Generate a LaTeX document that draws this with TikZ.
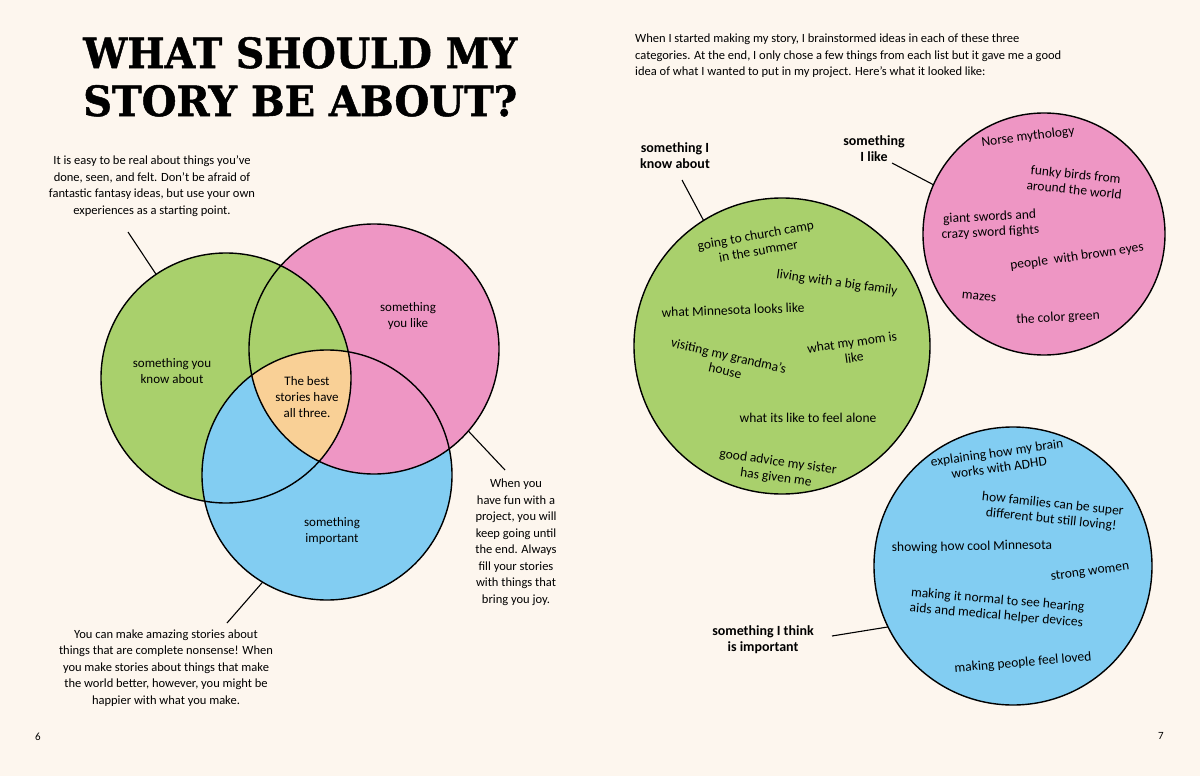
\documentclass[tikz,border=0pt]{standalone}
\usepackage{fontspec}
\setmainfont{Carlito}
\newfontfamily\titlefont[BoldFeatures={FakeBold=1.2}]{DejaVu Serif}
\usepackage{graphicx}
\usetikzlibrary{positioning}

\definecolor{paper}{RGB}{253,246,238}
\definecolor{vgreen}{RGB}{169,208,108}
\definecolor{vpink}{RGB}{238,150,196}
\definecolor{vblue}{RGB}{130,205,242}
\definecolor{vorange}{RGB}{249,208,150}

\begin{document}
\begin{tikzpicture}[
  x=1pt, y=-1pt,
  venn/.style={circle, minimum size=250pt, inner sep=0pt, outer sep=0pt},
  ring/.style={circle, draw=black, line width=1.4pt, inner sep=0pt, outer sep=0pt},
  note/.style={align=center, inner sep=0pt, font=\fontsize{12.5}{16.5}\selectfont},
  inlabel/.style={align=center, inner sep=0pt, font=\fontsize{13}{16}\selectfont},
  item/.style={align=center, inner sep=0pt, font=\fontsize{13.5}{15.5}\selectfont},
  tag/.style={align=center, inner sep=0pt, font=\fontsize{14}{16}\selectfont\bfseries},
  leader/.style={line width=1.1pt}
]
  % page
  \fill[paper] (0,0) rectangle (1200,776);
  \useasboundingbox (0,0) rectangle (1200,776);

  % Title
  \node[anchor=base west, inner sep=0pt] (title1) at (83,68)
    {\resizebox{434pt}{31pt}{\titlefont\bfseries WHAT SHOULD MY}};
  \node[anchor=base west, inner sep=0pt] (title2) at (83,116)
    {\resizebox{434pt}{31pt}{\titlefont\bfseries STORY BE ABOUT?}};

  % Venn circles (left page)
  \node[venn, fill=vgreen] (know) at (226,378) {};
  \node[venn, fill=vpink] (like) at (374,349) {};
  \node[venn, fill=vblue] (imp) at (327,475) {};
  % green over pink
  \begin{scope}
    \clip (like.center) circle[radius=125pt];
    \fill[vgreen] (know.center) circle[radius=125pt];
  \end{scope}
  % pink over blue
  \begin{scope}
    \clip (imp.center) circle[radius=125pt];
    \fill[vpink] (like.center) circle[radius=125pt];
  \end{scope}
  % all three
  \begin{scope}
    \clip (know.center) circle[radius=125pt];
    \clip (like.center) circle[radius=125pt];
    \fill[vorange] (imp.center) circle[radius=125pt];
  \end{scope}
  \foreach \c in {know,like,imp}
    \draw[line width=1.4pt] (\c.center) circle[radius=125pt];

  \node[inlabel] (knowTxt) at (172,371) {something you\\know about};
  \node[inlabel] (likeTxt) at (408,316) {something\\you like};
  \node[inlabel] (impTxt) at (332,531) {something\\important};
  \node[inlabel] (bestTxt) at (307,397) {The best\\stories have\\all three.};

  % Notes round the Venn
  \node[note] (noteKnow) at (152,186) {It is easy to be real about things you’ve\\done, seen, and felt. Don’t be afraid of\\fantastic fantasy ideas, but use your own\\experiences as a starting point.};
  \node[note] (noteLike) at (516,542) {When you\\have fun with a\\project, you will\\keep going until\\the end. Always\\fill your stories\\with things that\\bring you joy.};
  \node[note] (noteImp) at (166,668) {You can make amazing stories about\\things that are complete nonsense! When\\you make stories about things that make\\the world better, however, you might be\\happier with what you make.};

  \coordinate (endKnow) at (128,232);
  \coordinate (endLike) at (505,470);
  \coordinate (endImp) at (227,623);
  \draw[leader] (endKnow) -- (know.124);
  \draw[leader] (endLike) -- (like.-41);
  \draw[leader] (endImp) -- (imp.-121);

  % Right page
  \node[note, align=left, anchor=north west] (intro) at (635,34) {When I started making my story, I brainstormed ideas in each of these three\\categories. At the end, I only chose a few things from each list but it gave me a good\\idea of what I wanted to put in my project. Here’s what it looked like:};

  \node[ring, fill=vgreen, minimum size=296pt] (knowR) at (782,346) {};
  \node[ring, fill=vpink, minimum size=242pt] (likeR) at (1044,234) {};
  \node[ring, fill=vblue, minimum size=278pt] (impR) at (1013,566) {};

  \node[tag] (tagKnow) at (675,156) {something I\\know about};
  \node[tag] (tagLike) at (874,149) {something\\I like};
  \node[tag] (tagImp) at (763,640) {something I think\\is important};

  \coordinate (kEnd) at (682,180);
  \coordinate (lEnd) at (892,163);
  \coordinate (iEnd) at (832,636);
  \draw[leader] (kEnd) -- (knowR.122);
  \draw[leader] (lEnd) -- (likeR.156);
  \draw[leader] (iEnd) -- (impR.206);

  % things I know about
  \node[item, rotate=10] (k1) at (757,243) {going to church camp\\in the summer};
  \node[item, rotate=-8] (k2) at (837,283) {living with a big family};
  \node[item, rotate=2] (k3) at (733,310) {what Minnesota looks like};
  \node[item, rotate=-13] (k4) at (727,363) {visiting my grandma’s\\house};
  \node[item, rotate=8] (k5) at (853,350) {what my mom is\\like};
  \node[item] (k6) at (808,418) {what its like to feel alone};
  \node[item, rotate=-8] (k7) at (777,470) {good advice my sister\\has given me};

  % things I like
  \node[item, rotate=7] (l1) at (1028,137) {Norse mythology};
  \node[item, rotate=-6] (l2) at (1075,182) {funky birds from\\around the world};
  \node[item, rotate=3] (l3) at (990,225) {giant swords and\\crazy sword fights};
  \node[item, rotate=8] (l4) at (1077,257) {people\ \ with brown eyes};
  \node[item, rotate=-5] (l5) at (979,297) {mazes};
  \node[item, rotate=3] (l6) at (1058,318) {the color green};

  % things I think are important
  \node[item, rotate=8] (i1) at (998,460) {explaining how my brain\\works with ADHD};
  \node[item, rotate=-6] (i2) at (1052,512) {how families can be super\\different but still loving!};
  \node[item, rotate=1] (i3) at (972,547) {showing how cool Minnesota};
  \node[item, rotate=8] (i4) at (1090,572) {strong women};
  \node[item, rotate=-5] (i5) at (997,608) {making it normal to see hearing\\aids and medical helper devices};
  \node[item, rotate=5] (i6) at (1023,663) {making people feel loved};

  % page numbers
  \node[font=\fontsize{11}{13}\selectfont, inner sep=0pt] (page6) at (38,737) {6};
  \node[font=\fontsize{11}{13}\selectfont, inner sep=0pt] (page7) at (1161,736) {7};
\end{tikzpicture}
\end{document}
